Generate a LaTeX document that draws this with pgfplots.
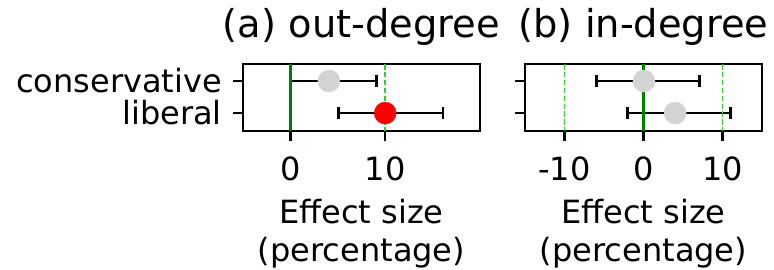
\documentclass[border=0pt]{standalone}
\usepackage{fontspec}
\setmainfont{DejaVu Sans}
\usepackage{pgfplots}
\pgfplotsset{compat=1.18}
\definecolor{mplgreen}{HTML}{008000}
\definecolor{limegreen}{HTML}{32CD32}
\definecolor{lgray}{HTML}{D3D3D3}
\pgfplotsset{
 errs/.style={only marks, mark=*, mark size=0.01bp, mark options={opacity=0}, black,
    error bars/.cd, x dir=both, x explicit, error mark=|,
    error bar style={line width=1.8bp, black, opacity=1},
    error mark options={opacity=1, line width=2.8bp, mark size=6bp, black}},
 dot/.style={only marks, mark=*, mark size=11bp, color=#1, mark options={draw=#1, fill=#1}},
 vline/.style={mplgreen, line width=3bp},
 dline/.style={limegreen, line width=1.8bp, dash pattern=on 5.5bp off 2.4bp},
 myaxis/.style={
  scale only axis, width=237bp, height=67bp,
  ymin=-0.53, ymax=1.56, y dir=reverse,
  ytick={0,1},
  axis line style={line width=2.6bp},
  tick style={line width=2.4bp, black},
  major tick length=10bp,
  tick align=outside,
  tick pos=left,
  ticklabel style={font=\fontsize{32bp}{38.4bp}\selectfont},
  yticklabel style={inner sep=0pt, xshift=-11bp},
  xticklabel style={inner sep=0pt, yshift=-16bp},
  title style={font=\fontsize{38.4bp}{46bp}\selectfont, at={(0.5,1)}, anchor=base, yshift=21bp, inner sep=0pt},
  xlabel style={font=\fontsize{32bp}{38.4bp}\selectfont, at={(0.5,0)}, anchor=north, yshift=-68bp, align=center, inner sep=0pt},
  xlabel={Effect size\\(percentage)},
 }}
\begin{document}
\begin{tikzpicture}
\path[use as bounding box] (0,0) rectangle (774bp,270bp);
\begin{axis}[myaxis, at={(243bp,139bp)}, anchor=south west,
  xmin=-5, xmax=20, xtick={0,10}, xticklabels={0,10},
  yticklabels={conservative,liberal}, title={(a) out-degree}]
\addplot[dot=lgray] coordinates {(4.06,0)};
\addplot[dot=red] coordinates {(10,1)};
\addplot[errs] coordinates {(4.06,0) += (5.03,0) -= (4.06,0) (10,1) += (6.1,0) -= (4.95,0)};
\addplot[vline] coordinates {(0,-0.53) (0,1.56)};
\addplot[dline] coordinates {(10,-0.53) (10,1.56)};
\end{axis}
\begin{axis}[myaxis, at={(525bp,139bp)}, anchor=south west,
  xmin=-15, xmax=15, xtick={-10,0,10}, xticklabels={-10,0,10},
  yticklabels={,}, title={(b) in-degree}]
\addplot[dot=lgray] coordinates {(0.06,0) (4,1)};
\addplot[errs] coordinates {(0.06,0) += (7.01,0) -= (6.06,0) (4,1) += (7,0) -= (6,0)};
\addplot[vline] coordinates {(0,-0.53) (0,1.56)};
\addplot[dline] coordinates {(-10,-0.53) (-10,1.56)};
\addplot[dline] coordinates {(10,-0.53) (10,1.56)};
\end{axis}
\end{tikzpicture}
\end{document}
